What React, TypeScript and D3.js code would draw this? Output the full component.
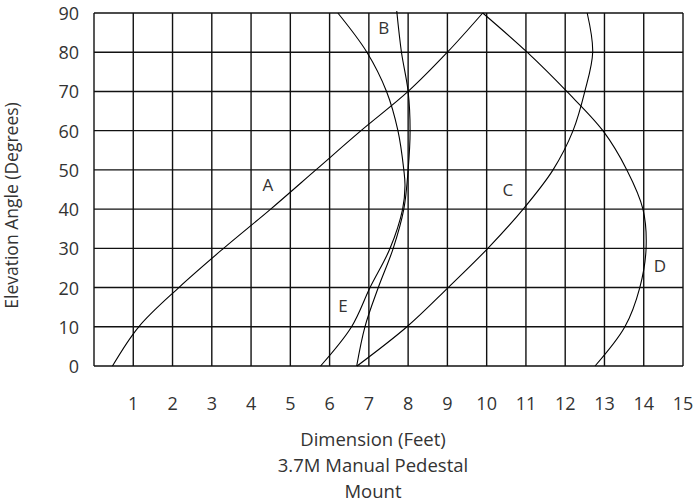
import React from "react";
import * as d3 from "d3";

// curves are read as [feet, degrees]
const curveA: [number, number][] = [
  [0.47, 0], [1.14, 10], [2.16, 20], [3.3, 30],
  [4.5, 40], [5.65, 50], [6.8, 60], [8.0, 70], [9.0, 80], [9.9, 90],
];
const curveB: [number, number][] = [
  [6.69, 0], [6.9, 10], [7.24, 20], [7.62, 30], [7.89, 40], [8.0, 50],
  [8.05, 60], [8.0, 70], [7.83, 80], [7.71, 90.5],
];
const curveC: [number, number][] = [
  [6.7, 0], [7.97, 10], [9.02, 20], [10.03, 30], [10.93, 40], [11.69, 50],
  [12.2, 60], [12.5, 70], [12.7, 80], [12.56, 90],
];
const curveD: [number, number][] = [
  [12.76, 0], [13.52, 10], [13.9, 20], [14.06, 30], [13.98, 40], [13.57, 50],
  [12.96, 60], [12.04, 70], [11.03, 80], [9.9, 90],
];
const curveE: [number, number][] = [
  [5.77, 0], [6.56, 10], [7.03, 20], [7.54, 30], [7.86, 40], [7.92, 46],
  [7.89, 50], [7.74, 60], [7.45, 70], [6.95, 80], [6.21, 90],
];

const curveNames = ["A", "B", "C", "D", "E"];
const curves = [curveA, curveB, curveC, curveD, curveE];
const labelSpots: [number, number][] = [
  [4.43, 46.4], [7.38, 86.4], [10.54, 44.9], [14.41, 25.5], [6.34, 15.3],
];

const xTicks = [1, 2, 3, 4, 5, 6, 7, 8, 9, 10, 11, 12, 13, 14, 15];
const yTicks = [0, 10, 20, 30, 40, 50, 60, 70, 80, 90];
const titleLines = ["Dimension (Feet)", "3.7M Manual Pedestal", "Mount"];

const W = 694;
const H = 503;
const left = 94;
const right = 683;
const top = 13;
const bottom = 366;
const font = "'Open Sans', sans-serif";
const textColor = "#333";

export default function App() {
  const x = d3.scaleLinear().domain([0, 15]).range([left, right]);
  const y = d3.scaleLinear().domain([0, 90]).range([bottom, top]);

  const lineGen = d3
    .line<[number, number]>()
    .x((d) => x(d[0]))
    .y((d) => y(d[1]))
    .curve(d3.curveCatmullRom.alpha(0.5));

  const gridX = d3.range(0, 16);

  return (
    <svg
      width={W}
      height={H}
      style={{ position: "absolute", left: 0, top: 0, background: "#fff" }}
    >
      <g stroke="#111" strokeWidth={1.4}>
        {gridX.map((v) => (
          <line key={"gx" + v} x1={x(v)} x2={x(v)} y1={y(0)} y2={y(90)} />
        ))}
        {yTicks.map((v) => (
          <line key={"gy" + v} x1={x(0)} x2={x(15)} y1={y(v)} y2={y(v)} />
        ))}
      </g>

      <g fill="none" stroke="#000" strokeWidth={1.1}>
        {curves.map((c, i) => (
          <path key={curveNames[i]} d={lineGen(c) || ""} />
        ))}
      </g>

      <g fontFamily={font} fontSize={17} fill={textColor}>
        {curveNames.map((n, i) => (
          <text
            key={"l" + n}
            x={x(labelSpots[i][0])}
            y={y(labelSpots[i][1])}
            textAnchor="middle"
            dominantBaseline="central"
          >
            {n}
          </text>
        ))}
      </g>

      <g fontFamily={font} fontSize={18} fill={textColor}>
        {yTicks.map((v) => (
          <text
            key={"yt" + v}
            x={79}
            y={y(v)}
            textAnchor="end"
            dominantBaseline="central"
          >
            {v}
          </text>
        ))}
        {xTicks.map((v) => (
          <text key={"xt" + v} x={x(v)} y={410} textAnchor="middle">
            {v}
          </text>
        ))}
        {titleLines.map((t, i) => (
          <text
            key={"t" + i}
            x={373}
            y={446 + i * 26}
            textAnchor="middle"
            fontSize={18.5}
          >
            {t}
          </text>
        ))}
        <text
          transform={`translate(18,${(top + bottom) / 2 + 16}) rotate(-90)`}
          textAnchor="middle"
          fontSize={17.5}
        >
          Elevation Angle (Degrees)
        </text>
      </g>
    </svg>
  );
}
